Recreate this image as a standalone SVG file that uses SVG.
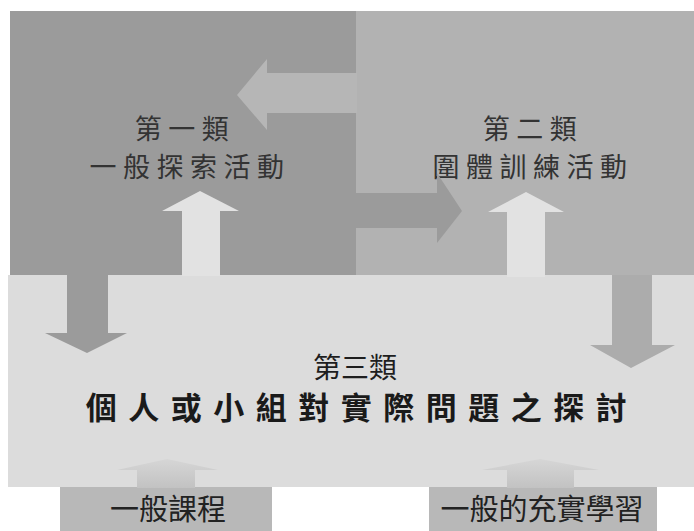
<svg xmlns="http://www.w3.org/2000/svg" width="694" height="531" viewBox="0 0 694 531">
<defs>
<linearGradient id="fadeUp" x1="0" y1="1" x2="0" y2="0">
<stop offset="0" stop-color="#c2c2c2"/>
<stop offset="1" stop-color="#d6d6d6"/>
</linearGradient>
</defs>
<style>
text{font-family:"Noto Sans CJK TC","Noto Sans CJK SC",sans-serif;text-anchor:middle}
.top{font-size:27px;fill:#333333;letter-spacing:6.5px}
.mid1{font-size:28px;fill:#1e1e1e}
.mid2{font-size:31px;fill:#1a1a1a;letter-spacing:11.5px;font-weight:bold}
.bot{font-size:29px;fill:#222}
</style>
<rect width="694" height="531" fill="#ffffff"/>
<g id="node1">
<rect x="10" y="11" width="346" height="264" fill="#9b9b9b"/>
<text class="top" x="185" y="139">第一類</text>
<text class="top" x="190" y="177">一般探索活動</text>
</g>
<g id="node2">
<rect x="356" y="11" width="338" height="265" fill="#b2b2b2"/>
<text class="top" x="533" y="139">第二類</text>
<text class="top" x="533" y="177">圍體訓練活動</text>
</g>
<g id="node3">
<rect x="8" y="275" width="686" height="212" fill="#dcdcdc"/>
<text class="mid1" x="355" y="378">第三類</text>
<text class="mid2" x="362" y="419">個人或小組對實際問題之探討</text>
</g>
<g id="node4">
<rect x="60" y="487" width="212" height="44" fill="#b8b8b8"/>
<text class="bot" x="168" y="520">一般課程</text>
</g>
<g id="node5">
<rect x="429" y="487" width="228" height="44" fill="#b8b8b8"/>
<text class="bot" x="542" y="520">一般的充實學習</text>
</g>
<g id="connectors">
<polygon points="357,73 267,73 267,59 237,95 267,130 267,113 357,113" fill="#b6b6b6"/>
<polygon points="355,193 437,193 437,173 462,211 437,243 437,228 355,228" fill="#9b9b9b"/>
<polygon points="182,276 182,211 162,211 200,191 239,211 220,211 220,276" fill="#e2e2e2"/>
<polygon points="507,277 507,212 488,212 526,192 564,212 545,212 545,277" fill="#e2e2e2"/>
<polygon points="67,274 67,333 45,333 87,353 127,333 108,333 108,274" fill="#9b9b9b"/>
<polygon points="612,275 612,345 590,345 631,368 675,345 652,345 652,275" fill="#acacac"/>
<polygon points="137,488 137,470 117,470 167,459 218,470 195,470 195,488" fill="url(#fadeUp)"/>
<polygon points="507,488 507,470 482,470 540,459 599,470 574,470 574,488" fill="url(#fadeUp)"/>
</g>
</svg>
